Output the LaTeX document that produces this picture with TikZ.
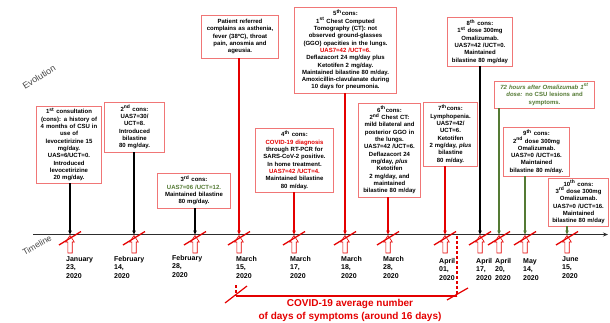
\documentclass[tikz,border=0pt]{standalone}
\usepackage{fontspec}
\setmainfont{Liberation Sans}
\usetikzlibrary{arrows.meta}
\definecolor{boxred}{RGB}{240,118,118}
\definecolor{lred}{RGB}{228,0,0}
\definecolor{dgreen}{RGB}{84,122,52}
\definecolor{axisgray}{RGB}{45,45,45}
\definecolor{lblgray}{RGB}{70,70,70}
\newcommand{\sps}[1]{\textsuperscript{#1}}
\begin{document}
\begin{tikzpicture}[x=1pt,y=-1pt,
  box/.style={draw=boxred,fill=white,line width=0.9pt,align=center,inner sep=1.5pt,
    font=\bfseries\fontsize{6}{7.3}\selectfont},
  datelbl/.style={anchor=north west,align=left,inner sep=0pt,
    font=\bfseries\fontsize{7}{8.5}\selectfont},
  connblack/.style={line width=1.1pt,black,-{Stealth[length=4pt,width=3.6pt]}},
  connred/.style={line width=1.1pt,lred,-{Stealth[length=4pt,width=3.6pt]}},
  conngreen/.style={line width=1.1pt,dgreen,-{Stealth[length=4pt,width=3.6pt]}},
  hollow/.style={draw=lred,fill=white,line width=0.6pt},
  slash/.style={draw=lred,line width=1.3pt},
  bracket/.style={draw=lred,line width=1.2pt},
  axisline/.style={draw=axisgray,line width=1.4pt,-{Stealth[length=5pt,width=4pt]}}
]
\useasboundingbox (0,0) rectangle (610,322);

% side labels
\node[font=\fontsize{9}{10}\selectfont,text=lblgray,rotate=32,inner sep=0pt] (evo) at (39,77) {Evolution};
\node[font=\fontsize{8.5}{10}\selectfont,text=lblgray,rotate=29,inner sep=0pt] (tl) at (37,245) {Timeline};

% axis
\coordinate (axL) at (33,234.5);
\coordinate (axR) at (608,234.5);
\draw[axisline] (axL) -- (axR);

% markers
\foreach \x/\n in {70/1,134/2,195/3,239/4,294/5,345/6,388/7,445/8,480/9,499/10,525/11,567/12}{
  \coordinate (m\n) at (\x,234.5);
  \draw[hollow] (\x-2.2,253) -- (\x+2.2,253) -- (\x+2.2,242) -- (\x+4.3,242) -- (\x,235.5)
    -- (\x-4.3,242) -- (\x-2.2,242) -- cycle;
}

% boxes
\node[box,text width=62pt,minimum height=77pt] (b1) at (69,144.5)
 {1\sps{st} consultation\\(cons): a history of\\4 months of CSU in\\use of\\levocetirizine 15\\mg/day.\\UAS=6/UCT=0.\\Introduced\\levocetirizine\\20 mg/day.};
\node[box,text width=57pt,minimum height=50pt] (b2) at (134.5,127)
 {2\sps{nd} cons:\\UAS7=30/\\UCT=8.\\Introduced\\bilastine\\80 mg/day.};
\node[box,text width=70pt,minimum height=35pt] (b3) at (194,190.5)
 {3\sps{rd} cons:\\\textcolor{dgreen}{UAS7=06 /UCT=12.}\\Maintained bilastine\\80 mg/day.};
\node[box,text width=74pt,minimum height=43pt] (bp) at (240,36.5)
 {Patient referred\\complains as asthenia,\\fever (38ºC), throat\\pain, anosmia and\\ageusia.};
\node[box,text width=75pt,minimum height=64pt] (b4) at (294.5,160)
 {4\sps{th} cons:\\\textcolor{lred}{COVID-19 diagnosis}\\through RT-PCR for\\SARS-CoV-2 positive.\\In home treatment.\\\textcolor{lred}{UAS7=42 /UCT=4.}\\Maintained bilastine\\80 m/day.};
\node[box,text width=99pt,minimum height=86pt] (b5) at (345.5,50)
 {5\sps{th}cons:\\1\sps{st} Chest Computed\\Tomography (CT): not\\observed ground-glasses\\(GGO) opacities in the lungs.\\\textcolor{lred}{UAS7=42 /UCT=6.}\\Deflazacort 24 mg/day plus\\Ketotifen 2 mg/day.\\Maintained bilastine 80 m/day.\\Amoxicillin-clavulanate during\\10 days for pneumonia.};
\node[box,text width=59pt,minimum height=94pt] (b6) at (389.5,150)
 {6\sps{th}cons:\\2\sps{nd} Chest CT:\\mild bilateral and\\posterior GGO in\\the lungs.\\UAS7=42 /UCT=6.\\Deflazacort 24\\mg/day, \textit{plus}\\Ketotifen\\2 mg/day, and\\maintained\\bilastine 80 m/day};
\node[box,text width=51pt,minimum height=64pt] (b7) at (450.5,134)
 {7\sps{th}cons:\\Lymphopenia.\\UAS7=42/\\UCT=6.\\Ketotifen\\2 mg/day, \textit{plus}\\bilastine\\80 m/day.};
\node[box,text width=62pt,minimum height=49pt] (b8) at (480,41.5)
 {8\sps{th} cons:\\1\sps{st} dose 300mg\\Omalizumab.\\UAS7=42 /UCT=0.\\Maintained\\bilastine 80 mg/day};
\node[box,text width=97pt,minimum height=27pt,text=dgreen] (b72) at (544.5,94.5)
 {\textit{72 hours after Omalizumab 1\sps{st}}\\\textit{dose:} no CSU lesions and\\symptoms.};
\node[box,text width=63pt,minimum height=49pt] (b9) at (536.5,151.5)
 {9\sps{th} cons:\\2\sps{nd} dose 300mg\\Omalizumab.\\UAS7=0 /UCT=16.\\Maintained\\bilastine 80 m/day.};
\node[box,text width=57pt,minimum height=48pt] (b10) at (578.5,202)
 {10\sps{th} cons:\\3\sps{rd} dose 300mg\\Omalizumab.\\UAS7=0 /UCT=16.\\Maintained\\bilastine 80 m/day};

% connectors
\draw[connblack] (b1.south -| m1) -- (m1);
\draw[connblack] (b2.south -| m2) -- (m2);
\draw[connblack] (b3.south -| m3) -- (m3);
\draw[connred] (bp.south -| m4) -- (m4);
\draw[connred] (b4.south -| m5) -- (m5);
\draw[connred] (b5.south -| m6) -- (m6);
\draw[connred] (b6.south -| m7) -- (m7);
\draw[connred] (b7.south -| m8) -- (m8);
\draw[connblack] (b8.south -| m9) -- (m9);
\draw[conngreen] (b72.south -| m10) -- (m10);
\draw[conngreen] (b9.south -| m11) -- (m11);
\draw[conngreen] (b10.south -| m12) -- (m12);

% slashes
\foreach \x in {70,134,195,239,294,345,388,445,480,499,525,567}{
  \draw[slash] (\x-11,245) -- (\x+11,231.5);
}

% date labels
\node[datelbl] (d1) at (66,256) {January\\23,\\2020};
\node[datelbl] (d2) at (114,256) {February\\14,\\2020};
\node[datelbl] (d3) at (172,255) {February\\28,\\2020};
\node[datelbl] (d4) at (236,256) {March\\15,\\2020};
\node[datelbl] (d5) at (290,256) {March\\17,\\2020};
\node[datelbl] (d6) at (341,256) {March\\18,\\2020};
\node[datelbl] (d7) at (383,256) {March\\28,\\2020};
\node[datelbl] (d8) at (439,258) {April\\01,\\2020};
\node[datelbl] (d9) at (476,258) {April\\17,\\2020};
\node[datelbl] (d10) at (495,258) {April\\20,\\2020};
\node[datelbl] (d11) at (523,258) {May\\14,\\2020};
\node[datelbl] (d12) at (562,256) {June\\15,\\2020};

% COVID bracket
\coordinate (cL) at (236,296);
\coordinate (cR) at (457,296);
\coordinate (cLt) at (236,285);
\coordinate (cRt) at (457,236);
\draw[bracket,dashed,dash pattern=on 3pt off 2pt] (cLt) -- (cL);
\draw[bracket,dashed,dash pattern=on 3pt off 2pt] (cRt) -- (cR);
\draw[bracket] (cL) -- (cR);
\draw[bracket] (225,303) -- (247,286);
\draw[bracket] (447,300) -- (468,288);
\node[font=\bfseries\fontsize{10}{13.5}\selectfont,text=lred,align=center,inner sep=0pt] (covid) at (350,310.5)
 {COVID-19 average number\\of days of symptoms (around 16 days)};
\end{tikzpicture}
\end{document}
